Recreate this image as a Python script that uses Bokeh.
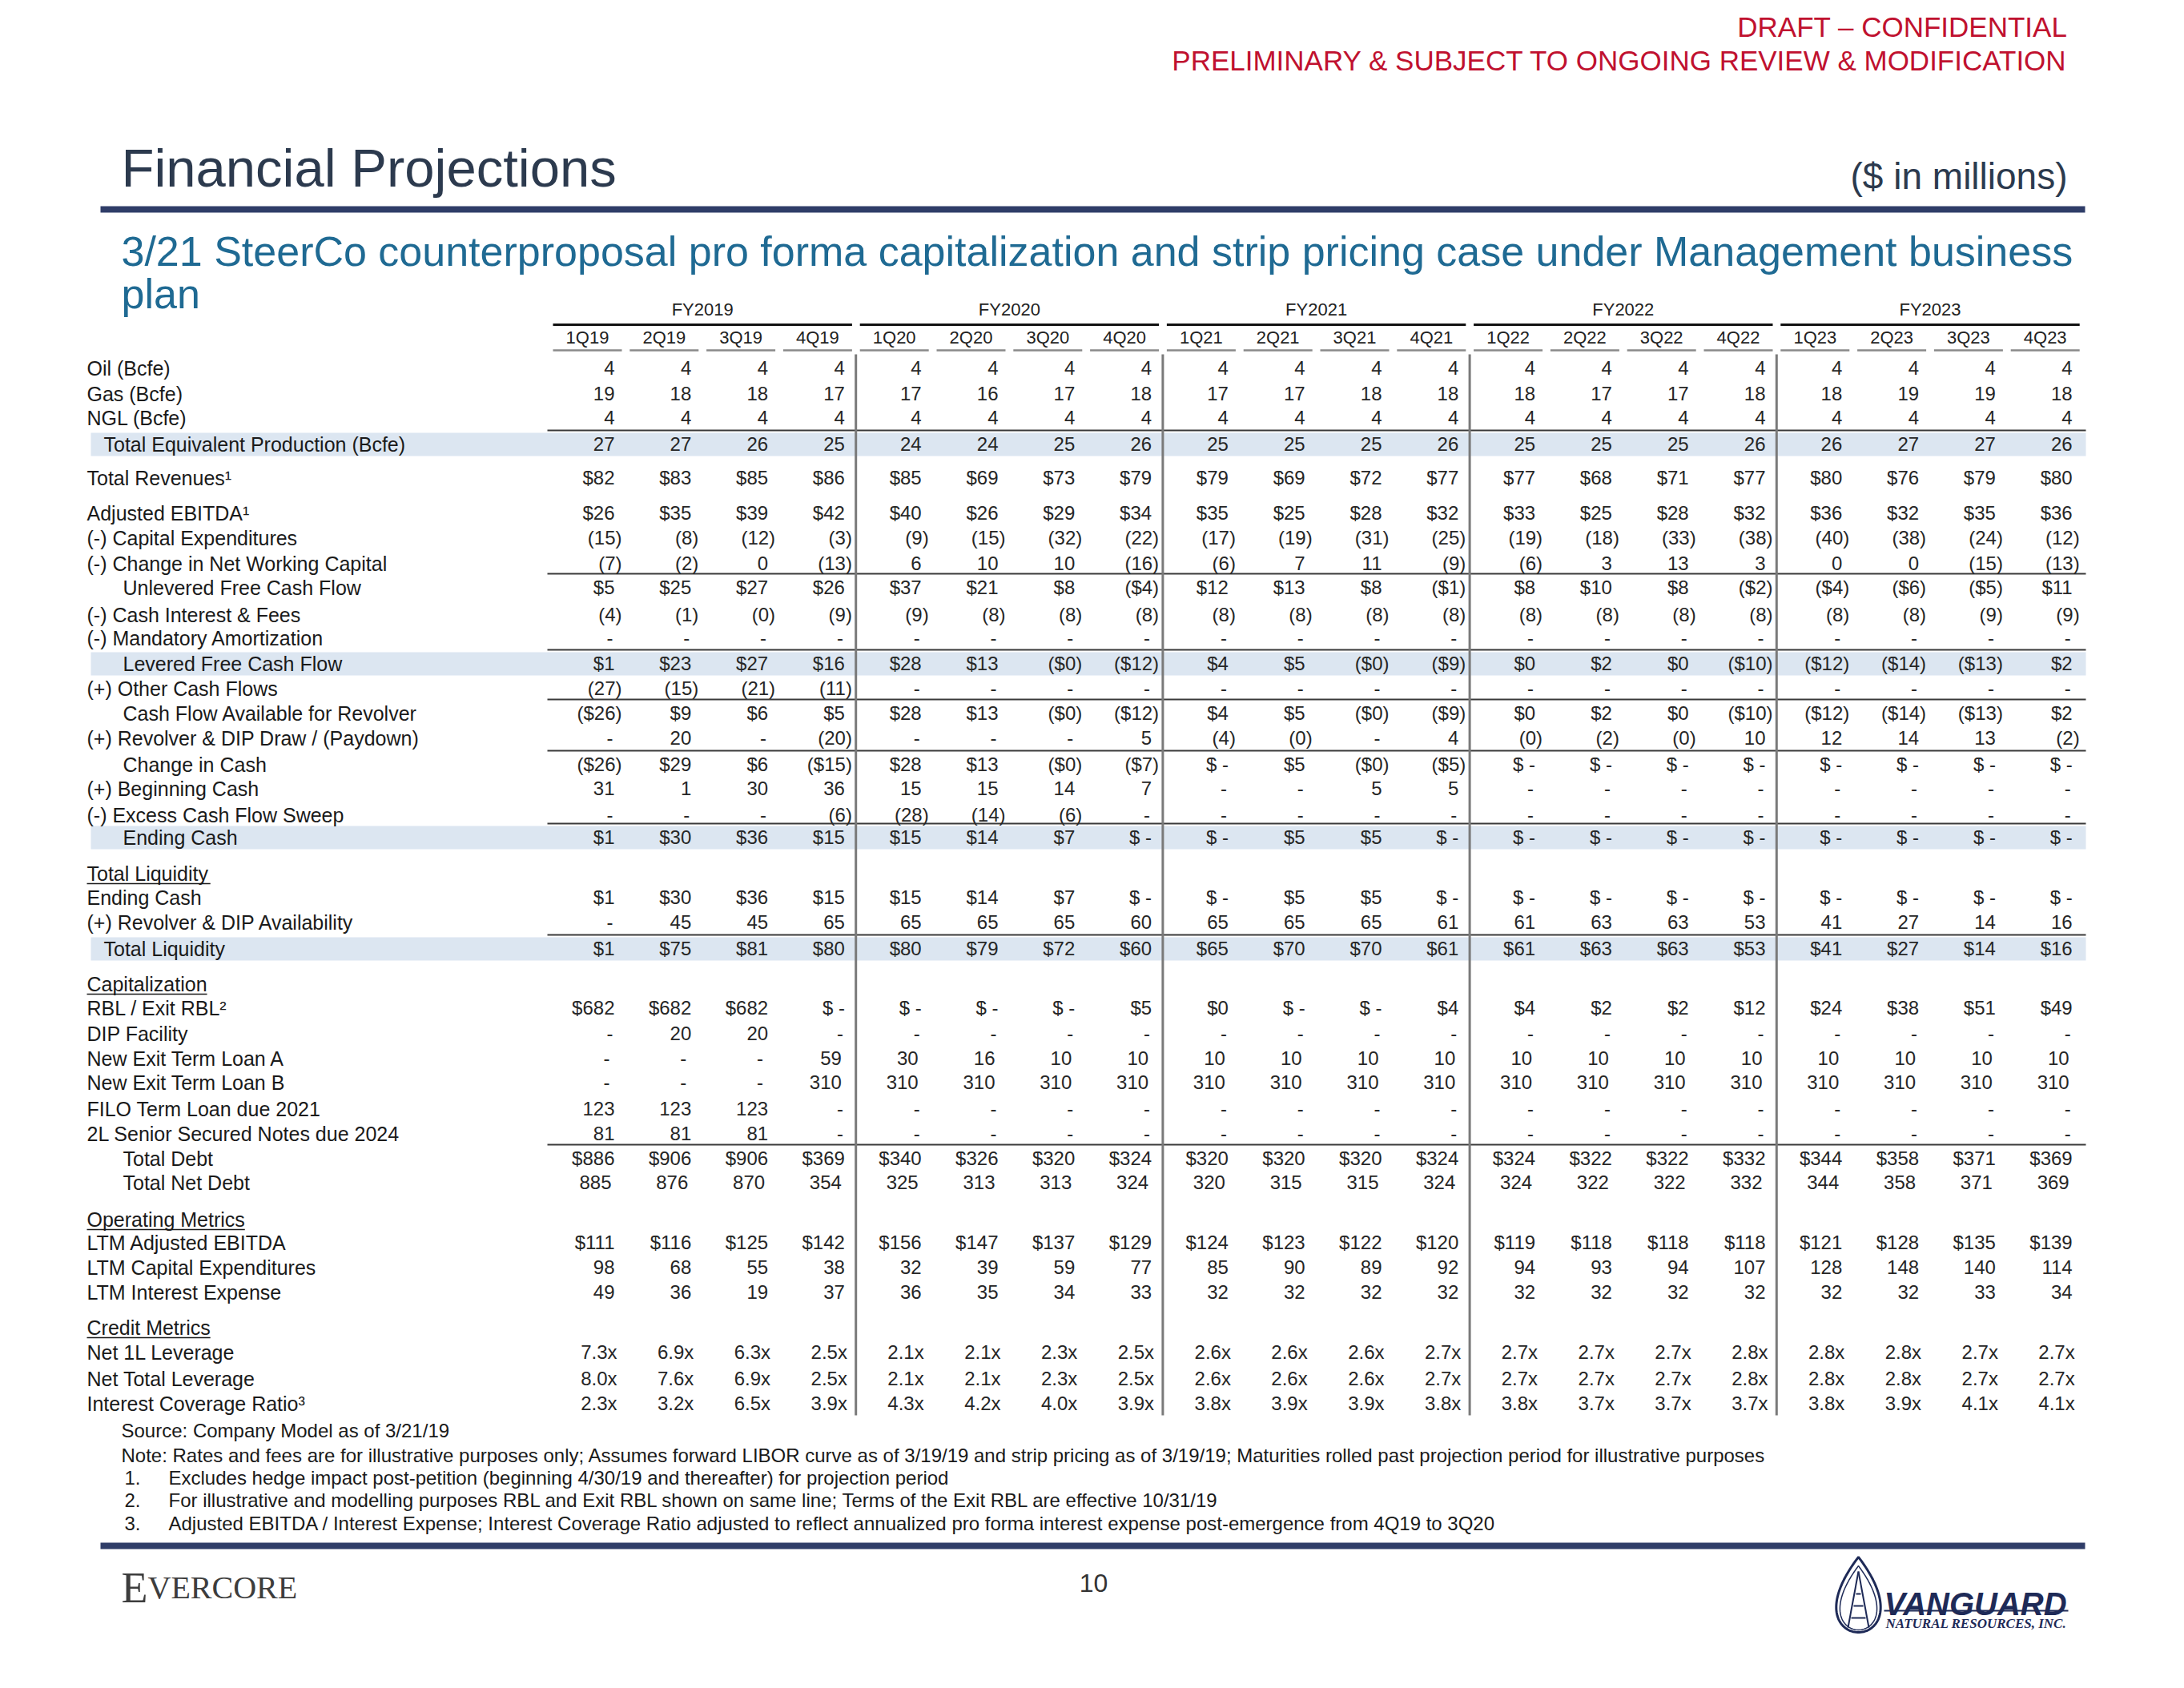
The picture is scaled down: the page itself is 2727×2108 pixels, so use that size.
import numpy as np
from bokeh.plotting import figure
from bokeh.models import Range1d
from bokeh.embed import file_html
from bokeh.resources import INLINE
from bokeh.core.properties import value

# ---------------- DATA ----------------
quarters = ["1Q19", "2Q19", "3Q19", "4Q19", "1Q20", "2Q20", "3Q20", "4Q20",
            "1Q21", "2Q21", "3Q21", "4Q21", "1Q22", "2Q22", "3Q22", "4Q22",
            "1Q23", "2Q23", "3Q23", "4Q23"]
fiscal_years = ["FY2019", "FY2020", "FY2021", "FY2022", "FY2023"]

oil_bcfe = ["4", "4", "4", "4", "4", "4", "4", "4", "4", "4", "4", "4", "4", "4", "4", "4", "4", "4", "4", "4"]
gas_bcfe = ["19", "18", "18", "17", "17", "16", "17", "18", "17", "17", "18", "18", "18", "17", "17", "18", "18", "19", "19", "18"]
ngl_bcfe = ["4", "4", "4", "4", "4", "4", "4", "4", "4", "4", "4", "4", "4", "4", "4", "4", "4", "4", "4", "4"]
total_production = ["27", "27", "26", "25", "24", "24", "25", "26", "25", "25", "25", "26", "25", "25", "25", "26", "26", "27", "27", "26"]
total_revenues = ["$82", "$83", "$85", "$86", "$85", "$69", "$73", "$79", "$79", "$69", "$72", "$77", "$77", "$68", "$71", "$77", "$80", "$76", "$79", "$80"]
adjusted_ebitda = ["$26", "$35", "$39", "$42", "$40", "$26", "$29", "$34", "$35", "$25", "$28", "$32", "$33", "$25", "$28", "$32", "$36", "$32", "$35", "$36"]
capital_expenditures = ["(15)", "(8)", "(12)", "(3)", "(9)", "(15)", "(32)", "(22)", "(17)", "(19)", "(31)", "(25)", "(19)", "(18)", "(33)", "(38)", "(40)", "(38)", "(24)", "(12)"]
change_nwc = ["(7)", "(2)", "0", "(13)", "6", "10", "10", "(16)", "(6)", "7", "11", "(9)", "(6)", "3", "13", "3", "0", "0", "(15)", "(13)"]
unlevered_fcf = ["$5", "$25", "$27", "$26", "$37", "$21", "$8", "($4)", "$12", "$13", "$8", "($1)", "$8", "$10", "$8", "($2)", "($4)", "($6)", "($5)", "$11"]
cash_interest = ["(4)", "(1)", "(0)", "(9)", "(9)", "(8)", "(8)", "(8)", "(8)", "(8)", "(8)", "(8)", "(8)", "(8)", "(8)", "(8)", "(8)", "(8)", "(9)", "(9)"]
mandatory_amort = ["-", "-", "-", "-", "-", "-", "-", "-", "-", "-", "-", "-", "-", "-", "-", "-", "-", "-", "-", "-"]
levered_fcf = ["$1", "$23", "$27", "$16", "$28", "$13", "($0)", "($12)", "$4", "$5", "($0)", "($9)", "$0", "$2", "$0", "($10)", "($12)", "($14)", "($13)", "$2"]
other_cash_flows = ["(27)", "(15)", "(21)", "(11)", "-", "-", "-", "-", "-", "-", "-", "-", "-", "-", "-", "-", "-", "-", "-", "-"]
cf_avail_revolver = ["($26)", "$9", "$6", "$5", "$28", "$13", "($0)", "($12)", "$4", "$5", "($0)", "($9)", "$0", "$2", "$0", "($10)", "($12)", "($14)", "($13)", "$2"]
revolver_draw = ["-", "20", "-", "(20)", "-", "-", "-", "5", "(4)", "(0)", "-", "4", "(0)", "(2)", "(0)", "10", "12", "14", "13", "(2)"]
change_in_cash = ["($26)", "$29", "$6", "($15)", "$28", "$13", "($0)", "($7)", "$ -", "$5", "($0)", "($5)", "$ -", "$ -", "$ -", "$ -", "$ -", "$ -", "$ -", "$ -"]
beginning_cash = ["31", "1", "30", "36", "15", "15", "14", "7", "-", "-", "5", "5", "-", "-", "-", "-", "-", "-", "-", "-"]
excess_cf_sweep = ["-", "-", "-", "(6)", "(28)", "(14)", "(6)", "-", "-", "-", "-", "-", "-", "-", "-", "-", "-", "-", "-", "-"]
ending_cash = ["$1", "$30", "$36", "$15", "$15", "$14", "$7", "$ -", "$ -", "$5", "$5", "$ -", "$ -", "$ -", "$ -", "$ -", "$ -", "$ -", "$ -", "$ -"]
revolver_availability = ["-", "45", "45", "65", "65", "65", "65", "60", "65", "65", "65", "61", "61", "63", "63", "53", "41", "27", "14", "16"]
total_liquidity = ["$1", "$75", "$81", "$80", "$80", "$79", "$72", "$60", "$65", "$70", "$70", "$61", "$61", "$63", "$63", "$53", "$41", "$27", "$14", "$16"]
rbl_exit_rbl = ["$682", "$682", "$682", "$ -", "$ -", "$ -", "$ -", "$5", "$0", "$ -", "$ -", "$4", "$4", "$2", "$2", "$12", "$24", "$38", "$51", "$49"]
dip_facility = ["-", "20", "20", "-", "-", "-", "-", "-", "-", "-", "-", "-", "-", "-", "-", "-", "-", "-", "-", "-"]
term_loan_a = ["-", "-", "-", "59", "30", "16", "10", "10", "10", "10", "10", "10", "10", "10", "10", "10", "10", "10", "10", "10"]
term_loan_b = ["-", "-", "-", "310", "310", "310", "310", "310", "310", "310", "310", "310", "310", "310", "310", "310", "310", "310", "310", "310"]
filo_term_loan = ["123", "123", "123", "-", "-", "-", "-", "-", "-", "-", "-", "-", "-", "-", "-", "-", "-", "-", "-", "-"]
senior_notes_2l = ["81", "81", "81", "-", "-", "-", "-", "-", "-", "-", "-", "-", "-", "-", "-", "-", "-", "-", "-", "-"]
total_debt = ["$886", "$906", "$906", "$369", "$340", "$326", "$320", "$324", "$320", "$320", "$320", "$324", "$324", "$322", "$322", "$332", "$344", "$358", "$371", "$369"]
total_net_debt = ["885", "876", "870", "354", "325", "313", "313", "324", "320", "315", "315", "324", "324", "322", "322", "332", "344", "358", "371", "369"]
ltm_ebitda = ["$111", "$116", "$125", "$142", "$156", "$147", "$137", "$129", "$124", "$123", "$122", "$120", "$119", "$118", "$118", "$118", "$121", "$128", "$135", "$139"]
ltm_capex = ["98", "68", "55", "38", "32", "39", "59", "77", "85", "90", "89", "92", "94", "93", "94", "107", "128", "148", "140", "114"]
ltm_interest = ["49", "36", "19", "37", "36", "35", "34", "33", "32", "32", "32", "32", "32", "32", "32", "32", "32", "32", "33", "34"]
net_1l_leverage = ["7.3x", "6.9x", "6.3x", "2.5x", "2.1x", "2.1x", "2.3x", "2.5x", "2.6x", "2.6x", "2.6x", "2.7x", "2.7x", "2.7x", "2.7x", "2.8x", "2.8x", "2.8x", "2.7x", "2.7x"]
net_total_leverage = ["8.0x", "7.6x", "6.9x", "2.5x", "2.1x", "2.1x", "2.3x", "2.5x", "2.6x", "2.6x", "2.6x", "2.7x", "2.7x", "2.7x", "2.7x", "2.8x", "2.8x", "2.8x", "2.7x", "2.7x"]
interest_coverage = ["2.3x", "3.2x", "6.5x", "3.9x", "4.3x", "4.2x", "4.0x", "3.9x", "3.8x", "3.9x", "3.9x", "3.8x", "3.8x", "3.7x", "3.7x", "3.7x", "3.8x", "3.9x", "4.1x", "4.1x"]

row_labels = [
    "Oil (Bcfe)", "Gas (Bcfe)", "NGL (Bcfe)", "Total Equivalent Production (Bcfe)",
    "Total Revenues\u00b9", "Adjusted EBITDA\u00b9", "(-) Capital Expenditures",
    "(-) Change in Net Working Capital", "Unlevered Free Cash Flow",
    "(-) Cash Interest & Fees", "(-) Mandatory Amortization", "Levered Free Cash Flow",
    "(+) Other Cash Flows", "Cash Flow Available for Revolver",
    "(+) Revolver & DIP Draw / (Paydown)", "Change in Cash", "(+) Beginning Cash",
    "(-) Excess Cash Flow Sweep", "Ending Cash",
    "Total Liquidity", "Ending Cash", "(+) Revolver & DIP Availability", "Total Liquidity",
    "Capitalization", "RBL / Exit RBL\u00b2", "DIP Facility", "New Exit Term Loan A",
    "New Exit Term Loan B", "FILO Term Loan due 2021", "2L Senior Secured Notes due 2024",
    "Total Debt", "Total Net Debt",
    "Operating Metrics", "LTM Adjusted EBITDA", "LTM Capital Expenditures", "LTM Interest Expense",
    "Credit Metrics", "Net 1L Leverage", "Net Total Leverage", "Interest Coverage Ratio\u00b3",
]
row_values = [
    oil_bcfe, gas_bcfe, ngl_bcfe, total_production,
    total_revenues, adjusted_ebitda, capital_expenditures,
    change_nwc, unlevered_fcf,
    cash_interest, mandatory_amort, levered_fcf,
    other_cash_flows, cf_avail_revolver,
    revolver_draw, change_in_cash, beginning_cash,
    excess_cf_sweep, ending_cash,
    None, ending_cash, revolver_availability, total_liquidity,
    None, rbl_exit_rbl, dip_facility, term_loan_a,
    term_loan_b, filo_term_loan, senior_notes_2l,
    total_debt, total_net_debt,
    None, ltm_ebitda, ltm_capex, ltm_interest,
    None, net_1l_leverage, net_total_leverage, interest_coverage,
]

footnotes_plain = [
    "Source: Company Model as of 3/21/19",
    "Note: Rates and fees are for illustrative purposes only; Assumes forward LIBOR curve as of 3/19/19 and strip pricing as of 3/19/19; Maturities rolled past projection period for illustrative purposes",
]
footnote_numbers = ["1.", "2.", "3."]
footnotes_numbered = [
    "Excludes hedge impact post-petition (beginning 4/30/19 and thereafter) for projection period",
    "For illustrative and modelling purposes RBL and Exit RBL shown on same line; Terms of the Exit RBL are effective 10/31/19",
    "Adjusted EBITDA / Interest Expense; Interest Coverage Ratio adjusted to reflect annualized pro forma interest expense post-emergence from 4Q19 to 3Q20",
]

# ---------------- LAYOUT ----------------
W, H = 2711, 2092
FONT = value("Liberation Sans")

ROW_Y = [459, 491, 521, 554, 596, 640, 671, 703, 733, 767, 796, 828, 859, 890, 921, 954,
         984, 1017, 1045, 1090, 1120, 1151, 1184, 1228, 1258, 1290, 1321, 1351, 1384, 1415,
         1446, 1476, 1522, 1551, 1582, 1613, 1657, 1688, 1721, 1752]
INDENT = [0, 0, 0, 1, 0, 0, 0, 0, 2, 0, 0, 2, 0, 2, 0, 2, 0, 0, 2,
          0, 0, 0, 1, 0, 0, 0, 0, 0, 0, 0, 2, 2, 0, 0, 0, 0, 0, 0, 0, 0]
SHADED = {3, 11, 18, 22}
RULE_ABOVE = {3, 8, 11, 13, 15, 18, 22, 30}
HEADERS = {19, 23, 32, 36}
VALUE_SHIFT = {26: -4, 27: -4, 31: -4}
INDENT_X = [108, 129, 153]
LABEL_PX = 25

COL0, STEP, UL_W, NUM_R = 690.0, 95.8, 86.0, 77.0
col_left = [COL0 + i * STEP for i in range(len(quarters))]

p = figure(width=W, height=H, x_range=Range1d(0, W), y_range=Range1d(H, 0),
           output_backend="svg", toolbar_location=None, min_border=0,
           x_axis_location=None, y_axis_location=None)
p.grid.visible = False
p.outline_line_color = None
p.background_fill_color = "white"
p.border_fill_color = "white"

ARIAL = {' ': .278, '(': .333, ')': .333, '-': .333, '&': .667, '/': .278, '.': .278,
         'a': .556, 'b': .556, 'c': .5, 'd': .556, 'e': .556, 'f': .278, 'g': .556, 'h': .556,
         'i': .222, 'j': .222, 'k': .5, 'l': .222, 'm': .833, 'n': .556, 'o': .556, 'p': .556,
         'q': .556, 'r': .333, 's': .5, 't': .278, 'u': .556, 'v': .5, 'w': .722, 'x': .5,
         'y': .5, 'z': .5, 'C': .722, 'L': .556, 'M': .833, 'O': .778, 'T': .611}


def text_width(s, size):
    return sum(ARIAL.get(c, .6) for c in s) * size


# shaded bands
band_rows = sorted(SHADED)
p.quad(left=[113] * len(band_rows), right=[2604] * len(band_rows),
       top=[ROW_Y[r] - 14 for r in band_rows], bottom=[ROW_Y[r] + 15 for r in band_rows],
       fill_color="#DCE6F1", line_color=None)

# horizontal rules above subtotal rows
rule_rows = sorted(RULE_ABOVE)
p.segment(x0=[683] * len(rule_rows), x1=[2604] * len(rule_rows),
          y0=[ROW_Y[r] - 17 for r in rule_rows], y1=[ROW_Y[r] - 17 for r in rule_rows],
          line_color="#3a3a3a", line_width=2.2)

# fiscal year headers + underline
fy_left = [col_left[4 * g] for g in range(len(fiscal_years))]
fy_right = [col_left[4 * g + 3] + UL_W for g in range(len(fiscal_years))]
p.segment(x0=fy_left, x1=fy_right, y0=[405] * 5, y1=[405] * 5, line_color="#111111", line_width=3)
p.text(x=[(a + b) / 2 for a, b in zip(fy_left, fy_right)], y=[386] * 5, text=fiscal_years,
       text_align="center", text_baseline="middle", text_font=FONT, text_font_size="22px",
       text_color="#222222")

# quarter headers + underline
p.segment(x0=col_left, x1=[c + UL_W for c in col_left], y0=[437] * 20, y1=[437] * 20,
          line_color="#8a8a8a", line_width=2.5)
p.text(x=[c + UL_W / 2 for c in col_left], y=[421] * 20, text=quarters,
       text_align="center", text_baseline="middle", text_font=FONT, text_font_size="22px",
       text_color="#222222")

# vertical group separators
vx = [col_left[4 * g] - 5 for g in range(1, 5)]
p.segment(x0=vx, x1=vx, y0=[442] * 4, y1=[1767] * 4, line_color="#7a7a7a", line_width=3)

# row labels
lx, ly, lt = [], [], []
hx, hy, ht = [], [], []
for r, lab in enumerate(row_labels):
    if r in HEADERS:
        hx.append(INDENT_X[0]); hy.append(ROW_Y[r]); ht.append(lab)
    else:
        lx.append(INDENT_X[INDENT[r]]); ly.append(ROW_Y[r]); lt.append(lab)
p.text(x=lx + hx, y=ly + hy, text=lt + ht, text_align="left", text_baseline="middle",
       text_font=FONT, text_font_size=f"{LABEL_PX}px", text_color="#1a1a1a")
p.segment(x0=hx, x1=[x + text_width(t, LABEL_PX) for x, t in zip(hx, ht)],
          y0=[y + 13 for y in hy], y1=[y + 13 for y in hy], line_color="#1a1a1a", line_width=1.5)

# values
vx_, vy_, vt_ = [], [], []
for r, vals in enumerate(row_values):
    if vals is None:
        continue
    for i, t in enumerate(vals):
        x = col_left[i] + NUM_R + VALUE_SHIFT.get(r, 0)
        if t.endswith(")"):
            x += 9
        elif t.endswith("x"):
            x += 3
        elif t == "-":
            x -= 2
        vx_.append(x); vy_.append(ROW_Y[r]); vt_.append(t)
p.text(x=vx_, y=vy_, text=vt_, text_align="right", text_baseline="middle",
       text_font=FONT, text_font_size="24px", text_color="#262626")

# ---------------- page furniture ----------------
p.text(x=[2581], y=[33], text=["DRAFT \u2013 CONFIDENTIAL"], text_align="right", text_baseline="middle",
       text_font=FONT, text_font_size="35px", text_color="#C0112F")
p.text(x=[2581], y=[75], text=["PRELIMINARY & SUBJECT TO ONGOING REVIEW & MODIFICATION"],
       text_align="right", text_baseline="middle", text_font=FONT, text_font_size="35px",
       text_color="#C0112F")
p.text(x=[151], y=[209], text=["Financial Projections"], text_align="left", text_baseline="middle",
       text_font=FONT, text_font_size="67px", text_color="#2C3A4E")
p.text(x=[2581], y=[219], text=["($ in millions)"], text_align="right", text_baseline="middle",
       text_font=FONT, text_font_size="46px", text_color="#2C3A4E")
p.segment(x0=[125, 125], x1=[2603, 2603], y0=[261, 1930], y1=[261, 1930], line_color="#2F3D68", line_width=8)
p.text(x=[151, 151], y=[313, 366],
       text=["3/21 SteerCo counterproposal pro forma capitalization and strip pricing case under Management business", "plan"],
       text_align="left", text_baseline="middle", text_font=FONT, text_font_size="52px", text_color="#1F6A93")

# footnotes
p.text(x=[151, 151], y=[1786, 1817], text=footnotes_plain, text_align="left", text_baseline="middle",
       text_font=FONT, text_font_size="24px", text_color="#1a1a1a")
p.text(x=[155, 155, 155], y=[1845, 1873, 1902], text=footnote_numbers, text_align="left",
       text_baseline="middle", text_font=FONT, text_font_size="24px", text_color="#1a1a1a")
p.text(x=[210, 210, 210], y=[1845, 1873, 1902], text=footnotes_numbered, text_align="left",
       text_baseline="middle", text_font=FONT, text_font_size="24px", text_color="#1a1a1a")

# footer: Evercore wordmark, page number, Vanguard logo
p.text(x=[151], y=[1982], text=["E"], text_align="left", text_baseline="alphabetic",
       text_font=value("Liberation Serif"), text_font_size="54px", text_color="#3d3d3d")
p.text(x=[184], y=[1982], text=["VERCORE"], text_align="left", text_baseline="alphabetic",
       text_font=value("Liberation Serif"), text_font_size="40px", text_color="#3d3d3d")
p.text(x=[1365], y=[1976], text=["10"], text_align="center", text_baseline="middle",
       text_font=FONT, text_font_size="32px", text_color="#333333")

t = np.linspace(0, 2 * np.pi, 120)
cx, cy = 2320, 1991
p.patch(x=cx + 36 * np.sin(t) * np.sin(t / 2), y=cy - 47 * np.cos(t), fill_color=None,
        line_color="#1E2A57", line_width=3)
p.patch(x=cx + 30 * np.sin(t) * np.sin(t / 2), y=cy + 4 - 40 * np.cos(t), fill_color=None,
        line_color="#1E2A57", line_width=1.5)
p.segment(x0=[cx, cx, cx - 9, cx - 6, cx - 3], x1=[cx - 13, cx + 13, cx + 9, cx + 6, cx + 3],
          y0=[1962, 1962, 2020, 2005, 1990], y1=[2032, 2032, 2020, 2005, 1990],
          line_color="#1E2A57", line_width=2)
p.text(x=[2352], y=[2002], text=["VANGUARD"], text_align="left", text_baseline="alphabetic",
       text_font=FONT, text_font_size="40px",
       text_font_style="bold italic", text_color="#1E2A57")
p.segment(x0=[2352], x1=[2582], y0=[2011], y1=[2011], line_color="#1E2A57", line_width=2)
p.text(x=[2354], y=[2027], text=["NATURAL RESOURCES, INC."], text_align="left", text_baseline="middle",
       text_font=value("Liberation Serif"), text_font_size="17px", text_font_style="bold italic",
       text_color="#1E2A57")

open("out.html", "w").write(file_html(p, INLINE))
